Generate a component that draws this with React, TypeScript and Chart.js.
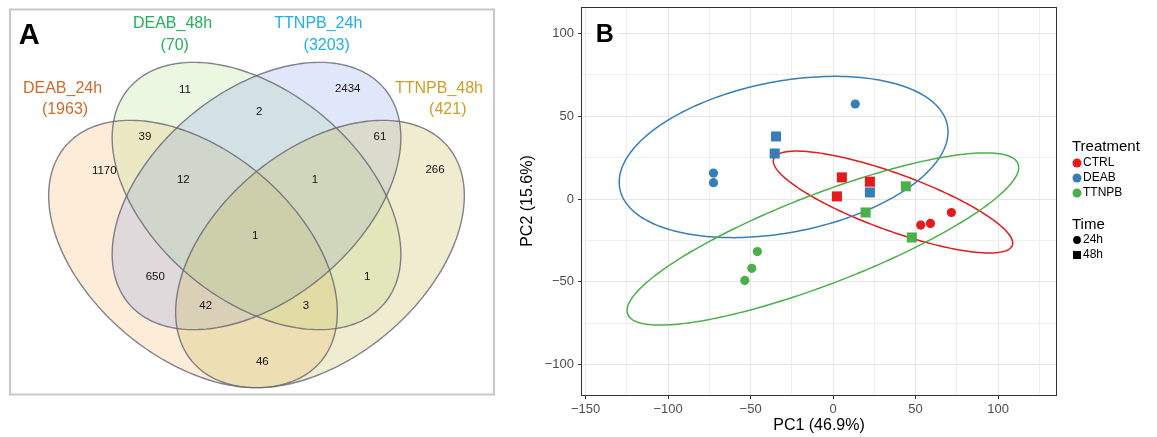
import React, { useEffect, useRef } from 'react';
import { Chart, registerables } from 'chart.js';

Chart.register(...registerables);

const FONT = '"Liberation Sans", Arial, Helvetica, sans-serif';

/* ---------------- Panel A : Venn diagram ---------------- */
const vennSetNames = ['DEAB_24h', 'DEAB_48h', 'TTNPB_24h', 'TTNPB_48h'];
const vennSetSizes = [1963, 70, 3203, 421];
const vennRegionCounts = [11, 2434, 2, 39, 61, 1170, 12, 1, 266, 1, 650, 1, 42, 3, 46];

/* diagram layout (diagram units, y up) */
const vennRegionX = [185, 347.7, 259.3, 145, 380, 104.3, 183.3, 315, 435, 255.3, 155.3, 367.3, 205.7, 306, 262.3];
const vennRegionY = [347, 348, 325.3, 299.7, 300.3, 266.3, 257, 257, 267, 201, 160.3, 160.3, 131, 131, 74.7];
const vennEllipseCX = [193, 256.5, 256.5, 320];
const vennEllipseCY = [183, 241, 241, 183];
const vennEllipseA = [167, 167, 167, 167];
const vennEllipseB = [104, 104, 104, 104];
const vennEllipseAngle = [-40, -40, 40, 40];
const vennNameX = [62.5, 172.5, 318.3, 439];
const vennNameY = [348.7, 413, 413, 348.7];
const vennSizeX = [65, 174.7, 326.7, 447.8];
const vennSizeY = [327, 391, 391, 327];
const vennExtentX = [0, 520];
const vennExtentY = [0, 437];

const vennTextColors = ['#cf6a2c', '#21b159', '#1fb0ea', '#cf9f22'];
const vennFills = [
  'rgba(245,185,110,0.27)',
  'rgba(175,220,130,0.24)',
  'rgba(120,145,232,0.22)',
  'rgba(200,185,80,0.27)',
];

/* ---------------- Panel B : PCA ---------------- */
const treatments = ['CTRL', 'DEAB', 'TTNPB'];
const treatmentColors = ['#E41A1C', '#377EB8', '#4DAF4A'];
const times = ['24h', '48h'];

const sampleTreatment = [
  'DEAB', 'DEAB', 'DEAB', 'DEAB', 'DEAB', 'DEAB',
  'CTRL', 'CTRL', 'CTRL', 'CTRL', 'CTRL', 'CTRL',
  'TTNPB', 'TTNPB', 'TTNPB', 'TTNPB', 'TTNPB', 'TTNPB',
];
const sampleTime = [
  '24h', '48h', '48h', '24h', '24h', '48h',
  '48h', '48h', '48h', '24h', '24h', '24h',
  '48h', '48h', '48h', '24h', '24h', '24h',
];
const samplePC1 = [
  13.4, -34.6, -35.4, -72.5, -72.5, 22.3,
  5.3, 22.3, 2.3, 71.7, 59.0, 53.1,
  44.1, 19.7, 47.7, -45.9, -49.3, -53.5,
];
const samplePC2 = [
  57.4, 37.8, 27.5, 15.7, 9.9, 4.0,
  13.1, 10.5, 1.6, -8.1, -14.7, -15.7,
  7.7, -8.1, -23.2, -31.7, -41.8, -49.1,
];

const ellipseTreatment = ['CTRL', 'DEAB', 'TTNPB'];
const ellipseCenterPC1 = [36.3, -30.0, -6.2];
const ellipseCenterPC2 = [-1.8, 25.4, -24.1];
const ellipseMajor = [76.9, 101.1, 126.7];
const ellipseMinor = [17.2, 45.6, 27.1];
const ellipseAngle = [-19.9, 10.9, 21.0];

const pc1MajorTicks = [-150, -100, -50, 0, 50, 100];
const pc1MinorTicks = [-125, -75, -25, 25, 75, 125];
const pc2MajorTicks = [-100, -50, 0, 50, 100];
const pc2MinorTicks = [-75, -25, 25, 75];
const pc1Range = [-152.2, 135.1];
const pc2Range = [-118.3, 115.9];

/* ---------------- helpers ---------------- */
function traceEllipse(ctx: CanvasRenderingContext2D, xs: any, ys: any, cx: number, cy: number, a: number, b: number, deg: number) {
  const phi = (deg * Math.PI) / 180;
  const n = 240;
  ctx.beginPath();
  for (let i = 0; i <= n; i++) {
    const t = (i / n) * Math.PI * 2;
    const vx = cx + a * Math.cos(t) * Math.cos(phi) - b * Math.sin(t) * Math.sin(phi);
    const vy = cy + a * Math.cos(t) * Math.sin(phi) + b * Math.sin(t) * Math.cos(phi);
    const px = xs.getPixelForValue(vx);
    const py = ys.getPixelForValue(vy);
    if (i === 0) ctx.moveTo(px, py);
    else ctx.lineTo(px, py);
  }
  ctx.closePath();
}

const fmt = (v: number) => (v < 0 ? '\u2212' + Math.abs(v) : String(v));

/* ---------------- Venn plugin ---------------- */
const vennPlugin = {
  id: 'vennDecor',
  beforeDatasetsDraw(chart: any) {
    const { ctx, scales } = chart;
    const xs = scales.x;
    const ys = scales.y;
    ctx.save();
    for (let i = 0; i < vennSetNames.length; i++) {
      traceEllipse(ctx, xs, ys, vennEllipseCX[i], vennEllipseCY[i], vennEllipseA[i], vennEllipseB[i], vennEllipseAngle[i]);
      ctx.fillStyle = vennFills[i];
      ctx.fill();
    }
    ctx.lineWidth = 1.4;
    ctx.strokeStyle = 'rgba(100,100,112,0.8)';
    for (let i = 0; i < vennSetNames.length; i++) {
      traceEllipse(ctx, xs, ys, vennEllipseCX[i], vennEllipseCY[i], vennEllipseA[i], vennEllipseB[i], vennEllipseAngle[i]);
      ctx.stroke();
    }
    ctx.restore();
  },
  afterDatasetsDraw(chart: any) {
    const { ctx, scales } = chart;
    const xs = scales.x;
    const ys = scales.y;
    const meta = chart.getDatasetMeta(0);
    ctx.save();
    ctx.textAlign = 'center';
    ctx.textBaseline = 'middle';
    ctx.fillStyle = '#111';
    ctx.font = `11.5px ${FONT}`;
    meta.data.forEach((el: any, i: number) => {
      ctx.fillText(String(vennRegionCounts[i]), el.x, el.y);
    });
    ctx.font = `16px ${FONT}`;
    for (let i = 0; i < vennSetNames.length; i++) {
      ctx.fillStyle = vennTextColors[i];
      ctx.fillText(vennSetNames[i], xs.getPixelForValue(vennNameX[i]), ys.getPixelForValue(vennNameY[i]));
      ctx.fillText(`(${vennSetSizes[i]})`, xs.getPixelForValue(vennSizeX[i]), ys.getPixelForValue(vennSizeY[i]));
    }
    // frame
    ctx.strokeStyle = '#c8c8c8';
    ctx.lineWidth = 2;
    ctx.strokeRect(10, 9.5, 484, 385);
    // panel tag
    ctx.fillStyle = '#000';
    ctx.font = `bold 29px ${FONT}`;
    ctx.textAlign = 'center';
    ctx.textBaseline = 'alphabetic';
    ctx.fillText('A', 29.3, 44.3);
    ctx.restore();
  },
};

/* ---------------- PCA plugin ---------------- */
const pcaPlugin = {
  id: 'pcaDecor',
  beforeDatasetsDraw(chart: any) {
    const { ctx, scales } = chart;
    ctx.save();
    ctx.lineWidth = 1.5;
    ellipseTreatment.forEach((t, i) => {
      traceEllipse(ctx, scales.x, scales.y, ellipseCenterPC1[i], ellipseCenterPC2[i], ellipseMajor[i], ellipseMinor[i], ellipseAngle[i]);
      ctx.strokeStyle = treatmentColors[treatments.indexOf(t)];
      ctx.stroke();
    });
    ctx.restore();
  },
  afterDraw(chart: any) {
    const { ctx, chartArea } = chart;
    ctx.save();
    // panel border
    const l = Math.round(chartArea.left) - 0.5;
    const r = Math.round(chartArea.right) + 0.5;
    const t = Math.round(chartArea.top) + 0.5;
    const b = Math.round(chartArea.bottom) + 0.5;
    ctx.strokeStyle = '#333333';
    ctx.lineWidth = 1;
    ctx.strokeRect(l, t, r - l, b - t);

    // panel tag B
    ctx.fillStyle = '#ffffff';
    ctx.fillRect(71, 21, 27, 25);
    ctx.fillStyle = '#000';
    ctx.font = `bold 25px ${FONT}`;
    ctx.textAlign = 'center';
    ctx.textBaseline = 'alphabetic';
    ctx.fillText('B', 84.7, 42.3);

    // axis titles
    ctx.font = `16px ${FONT}`;
    ctx.textBaseline = 'middle';
    ctx.fillText('PC1 (46.9%)', (chartArea.left + chartArea.right) / 2, 426);
    ctx.save();
    ctx.translate(8, (chartArea.top + chartArea.bottom) / 2);
    ctx.rotate(-Math.PI / 2);
    ctx.fillText('PC2 (15.6%)', 0, 0);
    ctx.restore();

    // legend
    const lx = 552;
    ctx.textAlign = 'left';
    ctx.font = `15px ${FONT}`;
    ctx.fillStyle = '#000';
    ctx.fillText('Treatment', lx, 147);
    ctx.font = `12px ${FONT}`;
    treatments.forEach((tr, i) => {
      const yy = 163 + i * 15;
      ctx.fillStyle = treatmentColors[i];
      ctx.beginPath();
      ctx.arc(lx + 5, yy, 4.5, 0, Math.PI * 2);
      ctx.fill();
      ctx.fillStyle = '#000';
      ctx.fillText(tr, lx + 11, yy);
    });
    ctx.font = `15px ${FONT}`;
    ctx.fillText('Time', lx, 225);
    ctx.font = `12px ${FONT}`;
    times.forEach((tm, i) => {
      const yy = 240 + i * 15;
      ctx.fillStyle = '#000';
      if (i === 0) {
        ctx.beginPath();
        ctx.arc(lx + 5, yy, 3.9, 0, Math.PI * 2);
        ctx.fill();
      } else {
        ctx.fillRect(lx + 1, yy - 4, 8, 8);
      }
      ctx.fillText(tm, lx + 11, yy);
    });
    ctx.restore();
  },
};

function VennPanel() {
  const ref = useRef<HTMLCanvasElement>(null);
  useEffect(() => {
    const chart = new Chart(ref.current as HTMLCanvasElement, {
      type: 'scatter',
      data: {
        datasets: [
          {
            label: 'regions',
            data: vennRegionCounts.map((c, i) => ({ x: vennRegionX[i], y: vennRegionY[i], count: c })) as any,
            pointRadius: 0,
            pointHoverRadius: 0,
          },
        ],
      },
      options: {
        animation: false,
        responsive: false,
        events: [],
        layout: { padding: 0 },
        plugins: { legend: { display: false }, tooltip: { enabled: false } },
        scales: {
          x: { type: 'linear', min: vennExtentX[0], max: vennExtentX[1], display: false },
          y: { type: 'linear', min: vennExtentY[0], max: vennExtentY[1], display: false },
        },
      },
      plugins: [vennPlugin],
    } as any);
    return () => chart.destroy();
  }, []);
  return (
    <canvas
      ref={ref}
      width={520}
      height={437}
      style={{ position: 'absolute', left: 0, top: 0, width: 520, height: 437 }}
    />
  );
}

function PcaPanel() {
  const ref = useRef<HTMLCanvasElement>(null);
  useEffect(() => {
    const isMajorX = (v: number) => pc1MajorTicks.includes(v);
    const isMajorY = (v: number) => pc2MajorTicks.includes(v);
    const datasets = treatments.map((tr, k) => ({
      label: tr,
      data: sampleTreatment
        .map((s, i) => ({ s, i }))
        .filter((o) => o.s === tr)
        .map((o) => ({ x: samplePC1[o.i], y: samplePC2[o.i], time: sampleTime[o.i] })),
      backgroundColor: treatmentColors[k],
      borderWidth: 0,
      pointStyle: (c: any) => (c.raw && c.raw.time === '48h' ? 'rect' : 'circle'),
      pointRadius: (c: any) => (c.raw && c.raw.time === '48h' ? 7.1 : 4.6),
      pointHoverRadius: (c: any) => (c.raw && c.raw.time === '48h' ? 7.1 : 4.6),
    }));
    const gridOpts = (isMajor: (v: number) => boolean) => ({
      color: (c: any) => (c.tick && isMajor(c.tick.value) ? '#e6e6e6' : '#efefef'),
      lineWidth: 1,
      drawTicks: true,
      tickLength: 4,
      tickWidth: 1,
      tickColor: (c: any) => (c.tick && isMajor(c.tick.value) ? '#333333' : 'rgba(0,0,0,0)'),
    });
    const chart = new Chart(ref.current as HTMLCanvasElement, {
      type: 'scatter',
      data: { datasets } as any,
      options: {
        animation: false,
        responsive: false,
        events: [],
        layout: { padding: { top: 7, right: 101, left: 0, bottom: 0 } },
        plugins: { legend: { display: false }, tooltip: { enabled: false } },
        scales: {
          x: {
            type: 'linear',
            min: pc1Range[0],
            max: pc1Range[1],
            afterBuildTicks: (s: any) => {
              s.ticks = [...pc1MajorTicks, ...pc1MinorTicks].sort((a, b) => a - b).map((v) => ({ value: v }));
            },
            afterFit: (s: any) => {
              s.height = 42;
              s.paddingLeft = 0;
              s.paddingRight = 0;
            },
            ticks: {
              autoSkip: false,
              maxRotation: 0,
              padding: 3,
              color: '#4d4d4d',
              font: { family: FONT, size: 13 },
              callback: (v: any) => (isMajorX(Number(v)) ? fmt(Number(v)) : ''),
            },
            grid: gridOpts(isMajorX),
            border: { display: false },
          },
          y: {
            type: 'linear',
            min: pc2Range[0],
            max: pc2Range[1],
            afterBuildTicks: (s: any) => {
              s.ticks = [...pc2MajorTicks, ...pc2MinorTicks].sort((a, b) => a - b).map((v) => ({ value: v }));
            },
            afterFit: (s: any) => {
              s.width = 62;
              s.paddingTop = 0;
              s.paddingBottom = 0;
            },
            ticks: {
              autoSkip: false,
              padding: 4,
              color: '#4d4d4d',
              font: { family: FONT, size: 13 },
              callback: (v: any) => (isMajorY(Number(v)) ? fmt(Number(v)) : ''),
            },
            grid: gridOpts(isMajorY),
            border: { display: false },
          },
        },
      },
      plugins: [pcaPlugin],
    } as any);
    return () => chart.destroy();
  }, []);
  return (
    <canvas
      ref={ref}
      width={637}
      height={437}
      style={{ position: 'absolute', left: 520, top: 0, width: 637, height: 437 }}
    />
  );
}

export default function App() {
  return (
    <div
      style={{
        position: 'absolute',
        left: 0,
        top: 0,
        width: 1157,
        height: 437,
        background: '#ffffff',
        overflow: 'hidden',
      }}
    >
      <VennPanel />
      <PcaPanel />
    </div>
  );
}
